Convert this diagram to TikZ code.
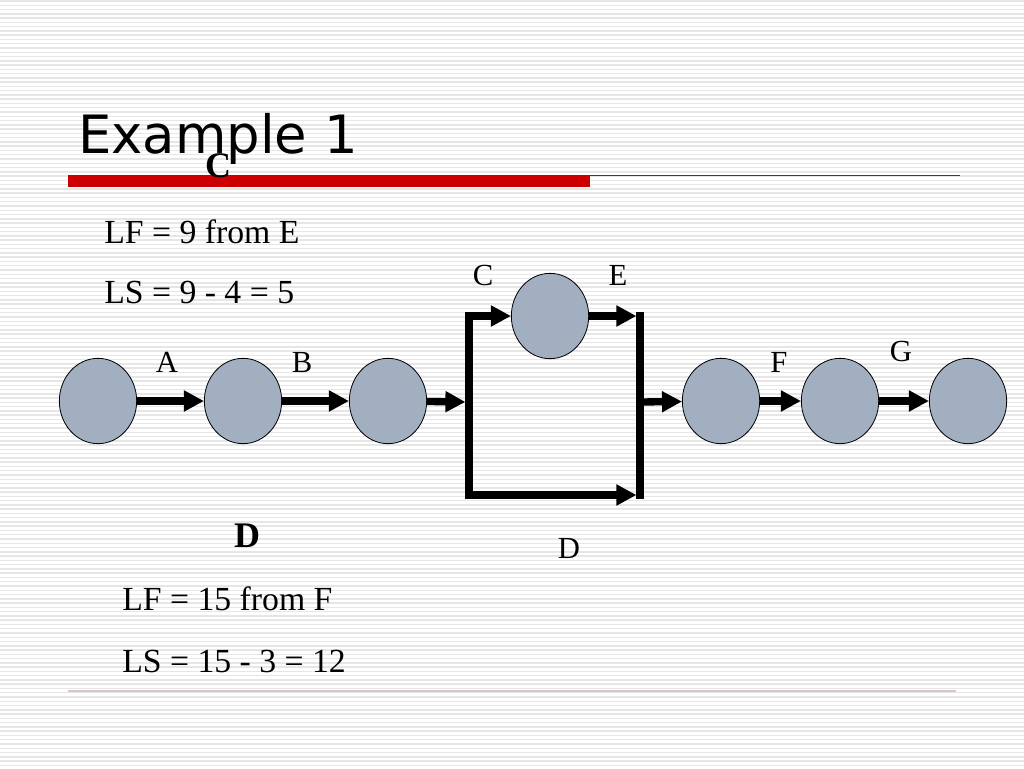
\documentclass[tikz,border=0pt]{standalone}
\usepackage{fontspec}
\setmainfont{Liberation Serif}
\newfontfamily\titrefont{DejaVu Sans}
\usetikzlibrary{arrows.meta,shapes.geometric}
\definecolor{bleugris}{RGB}{161,175,193}
\definecolor{rouge}{RGB}{204,0,0}
\definecolor{rose}{RGB}{222,196,196}
\definecolor{raye}{RGB}{230,230,230}
\begin{document}
\begin{tikzpicture}[line join=miter,x=0.75pt,y=-0.75pt,
	noeud/.style={ellipse,draw=black,line width=0.6pt,fill=bleugris,minimum width=58pt,minimum height=64pt,inner sep=0pt},
	fleche/.style={-{Triangle[length=15pt,width=15pt]},line width=5.5pt},
	barre/.style={line width=5.5pt,line cap=rect},
	lettre/.style={font=\fontsize{23}{26}\selectfont},
	texte/.style={anchor=base west,inner sep=0pt,font=\fontsize{25.3}{29}\selectfont}]
		% Fond
		\useasboundingbox (0,0) rectangle (1024,768);
		\fill[white] (0,0) rectangle (1024,768);
		\foreach \y in {1,5.27,...,768}
			\draw[raye,line width=1.1pt] (0,\y) -- (1024,\y);
		
		% Titre
		\node[anchor=base west,inner sep=0pt,font=\titrefont\fontsize{39.6}{44}\selectfont] (titre) at (78,153) {Example 1};
		\fill[rouge] (68,175) rectangle (590,187);
		\draw[rouge,line width=1pt] (590,175.5) -- (960,175.5);
		\draw[rose,line width=0.9pt] (68,691) -- (956,691);
		
		% Textes
		\node[font=\bfseries\fontsize{27}{30}\selectfont] (tC) at (218,166) {C};
		\node[texte] (lfC) at (104,243) {LF = 9 from E};
		\node[texte] (lsC) at (104,303) {LS = 9 - 4 = 5};
		\node[font=\bfseries\fontsize{27}{30}\selectfont] (tD) at (247,536) {D};
		\node[texte] (lfD) at (122,610) {LF = 15 from F};
		\node[texte] (lsD) at (122,672) {LS = 15 - 3 = 12};
		
		% Noeuds
		\node[noeud] (n1) at (98,401) {};
		\node[noeud] (n2) at (243,401) {};
		\node[noeud] (n3) at (388,401) {};
		\node[noeud] (nC) at (550,316) {};
		\node[noeud] (n4) at (721,401) {};
		\node[noeud] (n5) at (840,401) {};
		\node[noeud] (n6) at (968,401) {};
		
		% Coins du bloc C / D
		\coordinate (hg) at (469,316);
		\coordinate (bg) at (469,495);
		\coordinate (mg) at (469,402);
		\coordinate (hd) at (640,316);
		\coordinate (bd) at (640,495);
		\coordinate (md) at (640,402);
		
		% Fleches
		\draw[fleche] (n1) -- (n2);
		\draw[fleche] (n2) -- (n3);
		\draw[fleche,shorten >=2.7pt] (n3) -- (mg);
		\draw[fleche] (bg) -- (hg) -- (nC);
		\draw[fleche,shorten >=2.7pt] (hg) -- (bg) -- (bd);
		\draw[fleche,shorten >=2.7pt] (nC) -- (hd);
		\draw[barre] (hd) -- (bd);
		\draw[fleche] (md) -- (n4);
		\draw[fleche] (n4) -- (n5);
		\draw[fleche] (n5) -- (n6);
		
		% Lettres des taches
		\node[lettre] (lA) at (167,362) {A};
		\node[lettre] (lB) at (302,362) {B};
		\node[lettre] (lC) at (483,275) {C};
		\node[lettre] (lE) at (618,275) {E};
		\node[lettre] (lD) at (569,548) {D};
		\node[lettre] (lF) at (779,362) {F};
		\node[lettre] (lG) at (901,351) {G};
	\end{tikzpicture}
\end{document}
